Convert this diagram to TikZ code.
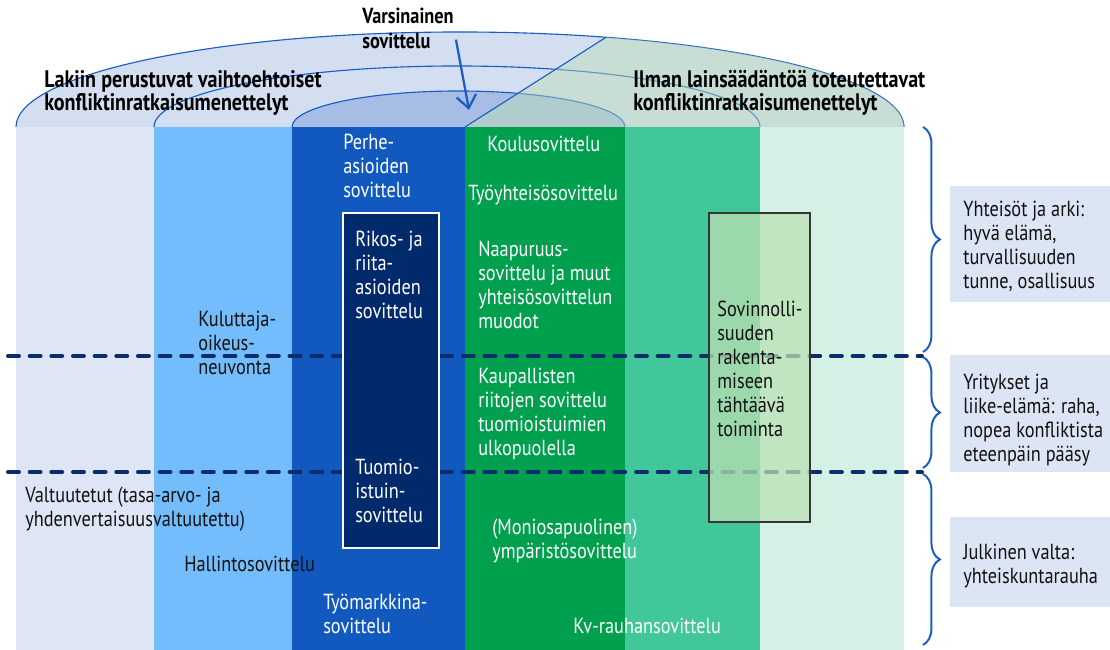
\documentclass[tikz,border=0pt]{standalone}
\usepackage{fontspec}
\setmainfont{PT Sans}[FakeStretch=0.84]
\usepackage{tikz}
\usetikzlibrary{arrows.meta,decorations.pathreplacing,positioning}
\definecolor{capfill}{HTML}{D3DEF0}
\definecolor{capinner}{HTML}{A8BDE6}
\definecolor{edgeblue}{HTML}{1A5CC6}
\definecolor{softgreen}{HTML}{BBE0B5}
\definecolor{colA}{HTML}{DEE6F5}
\definecolor{colB}{HTML}{74BDFD}
\definecolor{colC}{HTML}{1259BF}
\definecolor{colD}{HTML}{00A04E}
\definecolor{colE}{HTML}{41C799}
\definecolor{colF}{HTML}{D5F0E4}
\definecolor{navy}{HTML}{0B2D6B}
\definecolor{boxnavy}{HTML}{002A6C}
\definecolor{sidefill}{HTML}{DCE5F4}
\definecolor{ink}{HTML}{111111}
\newcommand{\bodysize}{\fontsize{15.5}{17}\selectfont}
\newcommand{\headsize}{\fontsize{17}{16.5}\selectfont}
\tikzset{%
	capline/.style  = {draw=edgeblue, line width=0.8pt},
	lbl/.style      = {anchor=north west, inner sep=0pt, align=left, font=\bodysize, text=white},
	lbldark/.style  = {lbl, text=ink},
	head/.style     = {lbl, text=black, font=\headsize\bfseries},
	smallhead/.style= {lbl, text=black, font=\fontsize{15.5}{17.7}\selectfont\bfseries},
	zone/.style     = {draw=navy, line width=2.8pt, line cap=round, dash pattern=on 7.8pt off 7.6pt},
	darkbox/.style  = {fill=boxnavy, draw=white, line width=1.1pt},
	softbox/.style  = {fill=softgreen, fill opacity=0.74, draw=ink!85, line width=1pt},
	sidebox/.style  = {fill=sidefill, draw=none},
	bracket/.style  = {draw=edgeblue, line width=1.4pt, decorate, decoration={brace, amplitude=12pt}},
	pointer/.style  = {draw=edgeblue, line width=1.6pt, -{Straight Barb[length=9pt, width=14pt]}},
}

\begin{document}
\begin{tikzpicture}[x=0.025cm, y=0.025cm]
	\useasboundingbox (0,0) rectangle (1110,650);

	% caps
	\fill[capfill] (16,523) arc[start angle=180, end angle=0, x radius=444, y radius=95] -- cycle;
	\draw[capline] (16,523) arc[start angle=180, end angle=0, x radius=444, y radius=95];
	\fill[capfill] (154,523) arc[start angle=180, end angle=0, x radius=303, y radius=61] -- cycle;
	\draw[capline] (154,523) arc[start angle=180, end angle=0, x radius=303, y radius=61];
	\fill[capinner] (292,523) arc[start angle=180, end angle=0, x radius=166.5, y radius=36] -- cycle;
	\draw[capline] (292,523) arc[start angle=180, end angle=0, x radius=166.5, y radius=36];
	\fill[softgreen, fill opacity=0.45] (904,523) arc[start angle=0, end angle=70.8, x radius=444, y radius=95] -- (465,523) -- cycle;
	\draw[capline] (465,523) -- (606,612.7);

	% columns
	\fill[colA] (16,0) rectangle (154,523);
	\fill[colB] (154,0) rectangle (292,523);
	\fill[colC] (292,0) rectangle (465,523);
	\fill[colD] (465,0) rectangle (625,523);
	\fill[colE] (625,0) rectangle (760,523);
	\fill[colF] (760,0) rectangle (904,523);

	\draw[zone] (8,294) -- (922,294);
	\draw[zone] (8,178) -- (922,178);

	\draw[darkbox] (343,102) rectangle (439,437);
	\draw[softbox] (709,128) rectangle (810,437);

	\fill[sidebox] (950,348) rectangle (1110,464);
	\fill[sidebox] (950,178) rectangle (1110,295);
	\fill[sidebox] (950,43) rectangle (1110,133);

	\draw[bracket] (923,523) -- (923,298);
	\draw[bracket] (923,293) -- (923,182);
	\draw[bracket] (923,176) -- (923,5);

	% headings
	\node[smallhead] (varsin) at (362,642) {Varsinainen\\sovittelu};
	\node[head] (lakiin) at (44,580) {Lakiin perustuvat vaihtoehtoiset\\konfliktinratkaisumenettelyt};
	\node[head] (ilman) at (633,580) {Ilman lainsäädäntöä toteutettavat\\konfliktinratkaisumenettelyt};
	\coordinate (captip) at (469,540);
	\draw[pointer] ([shift={(2,-11)}]varsin.east) -- (captip);

	% column texts
	\node[lbl] (perhe) at (343,516) {Perhe-\\asioiden\\sovittelu};
	\node[lbl] (rikos) at (355,419) {Rikos- ja\\riita-\\asioiden\\sovittelu};
	\node[lbl] (tuomio) at (355,191) {Tuomio-\\istuin-\\sovittelu};
	\node[lbl] (tyomark) at (323,56) {Työmarkkina-\\sovittelu};
	\node[lbl] (koulu) at (487,514) {Koulusovittelu};
	\node[lbl] (tyoyht) at (468,465) {Työyhteisösovittelu};
	\node[lbl] (naapuri) at (478,409) {Naapuruus-\\sovittelu ja muut\\yhteisösovittelun\\muodot};
	\node[lbl] (kaupall) at (478,282) {Kaupallisten\\riitojen sovittelu\\tuomioistuimien\\ulkopuolella};
	\node[lbl] (ymparis) at (492,131) {(Moniosapuolinen)\\ympäristösovittelu};
	\node[lbl] (kvrauha) at (573,32) {Kv-rauhansovittelu};
	\node[lbldark] (kulutt) at (198,339) {Kuluttaja-\\oikeus-\\neuvonta};
	\node[lbldark] (valtuut) at (25,163) {Valtuutetut (tasa-arvo- ja\\yhdenvertaisuusvaltuutettu)};
	\node[lbldark] (hallint) at (184,94) {Hallintosovittelu};
	\node[lbldark] (sovinn) at (717,349) {Sovinnolli-\\suuden\\rakenta-\\miseen\\tähtäävä\\toiminta};

	% side texts
	\node[lbldark] (arki) at (963,449) {Yhteisöt ja arki:\\hyvä elämä,\\turvallisuuden\\tunne, osallisuus};
	\node[lbldark] (yritys) at (963,276) {Yritykset ja\\liike-elämä: raha,\\nopea konfliktista\\eteenpäin pääsy};
	\node[lbldark] (julkinen) at (963,106) {Julkinen valta:\\yhteiskuntarauha};
\end{tikzpicture}
\end{document}
